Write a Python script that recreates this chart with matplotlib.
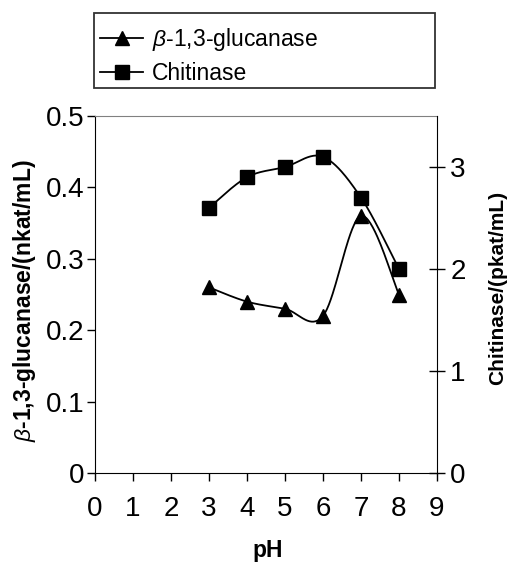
import numpy as np
import matplotlib
matplotlib.use("Agg")
import matplotlib.pyplot as plt
from matplotlib.lines import Line2D
from matplotlib.patches import Rectangle

plt.rcParams['font.family'] = ['Liberation Sans', 'DejaVu Sans']
plt.rcParams['mathtext.fontset'] = 'custom'
plt.rcParams['mathtext.it'] = 'Liberation Sans:italic'
plt.rcParams['mathtext.rm'] = 'Liberation Sans'
plt.rcParams['mathtext.bf'] = 'Liberation Sans:bold'

ph = [3, 4, 5, 6, 7, 8]
glucanase = [0.26, 0.24, 0.23, 0.22, 0.36, 0.25]
chitinase = [2.6, 2.9, 3.0, 3.1, 2.7, 2.0]
x_ticks = list(range(0, 10))
left_ticks = [0, 0.1, 0.2, 0.3, 0.4, 0.5]
left_ticklabels = ['0', '0.1', '0.2', '0.3', '0.4', '0.5']
right_ticks = [0, 1, 2, 3]


def smooth(xs, ys, n=40):
    xs = np.asarray(xs, float)
    ys = np.asarray(ys, float)
    P = np.column_stack([xs, ys])
    out = []
    for i in range(len(P) - 1):
        p0 = P[i - 1] if i > 0 else P[i]
        p1 = P[i]
        p2 = P[i + 1]
        p3 = P[i + 2] if i + 2 < len(P) else P[i + 1]
        c1 = p1 + (p2 - p0) / 6.0
        c2 = p2 - (p3 - p1) / 6.0
        t = np.linspace(0, 1, n)[:, None]
        seg = ((1 - t) ** 3) * p1 + 3 * ((1 - t) ** 2) * t * c1 + 3 * (1 - t) * t ** 2 * c2 + t ** 3 * p2
        out.append(seg if i == 0 else seg[1:])
    out = np.vstack(out)
    return out[:, 0], out[:, 1]


W, H = 509, 563
fig = plt.figure(figsize=(W / 100, H / 100), dpi=100)
ax = fig.add_axes([95 / W, 1 - 473 / H, (437 - 95) / W, (473 - 116) / H])
ax2 = ax.twinx()

sx, sy = smooth(ph, glucanase)
ax.plot(sx, sy, color='black', lw=1.3, zorder=3)
ax.plot(ph, glucanase, ls='none', marker='^', ms=10, color='black', zorder=4)

cx, cy = smooth(ph, chitinase)
ax2.plot(cx, cy, color='black', lw=1.3, zorder=3)
ax2.plot(ph, chitinase, ls='none', marker='s', ms=10, color='black', zorder=4)

ax.set_xlim(0, 9)
ax.set_ylim(0, 0.5)
ax2.set_ylim(0, 3.5)
ax.set_xticks(x_ticks)
ax.set_yticks(left_ticks)
ax.set_yticklabels(left_ticklabels)
ax2.set_yticks(right_ticks)

ax.tick_params(axis='x', direction='out', length=5.5, width=1, labelsize=20, pad=11)
ax.tick_params(axis='y', direction='out', length=6, width=1, labelsize=20, pad=1.5)
ax2.tick_params(axis='y', direction='inout', length=11, width=1, labelsize=20, pad=4)

for s in ['left', 'bottom']:
    ax.spines[s].set_color('black')
ax.spines['top'].set_color('#808080')
ax.spines['right'].set_visible(False)
ax2.spines['top'].set_visible(False)
ax2.spines['left'].set_visible(False)
ax2.spines['bottom'].set_visible(False)
ax2.spines['right'].set_color('black')

ax.set_xlabel('pH', fontsize=16.5, fontweight='bold', va='center', ha='center')
ax.xaxis.set_label_coords(0.506, -0.217)
ax.set_ylabel(r'$\beta$-1,3-glucanase/(nkat/mL)', fontsize=16.5, fontweight='bold',
              va='center', ha='center')
ax.yaxis.set_label_coords(-0.205, 0.482)
ax2.set_ylabel('Chitinase/(pkat/mL)', fontsize=15, fontweight='bold', rotation=90,
               va='center', ha='center')
ax2.yaxis.set_label_coords(1.178, 0.518)

fig.patches.append(Rectangle((94 / W, 1 - 88 / H), (435 - 94) / W, (88 - 13) / H,
                             transform=fig.transFigure, fill=False,
                             ec='#333333', lw=1.3, zorder=10))

handles = [Line2D([], [], color='black', lw=1.3, marker='^', ms=10),
           Line2D([], [], color='black', lw=1.3, marker='s', ms=10)]
labels = [r'$\beta$-1,3-glucanase', 'Chitinase']
leg = fig.legend(handles, labels, loc='center left',
                 bbox_to_anchor=(100 / W, 1 - 55.5 / H),
                 fontsize=16.5, frameon=False, handlelength=1.88,
                 handletextpad=0.4, borderpad=0, labelspacing=0.42,
                 borderaxespad=0)

fig.savefig('out.png', dpi=100)
